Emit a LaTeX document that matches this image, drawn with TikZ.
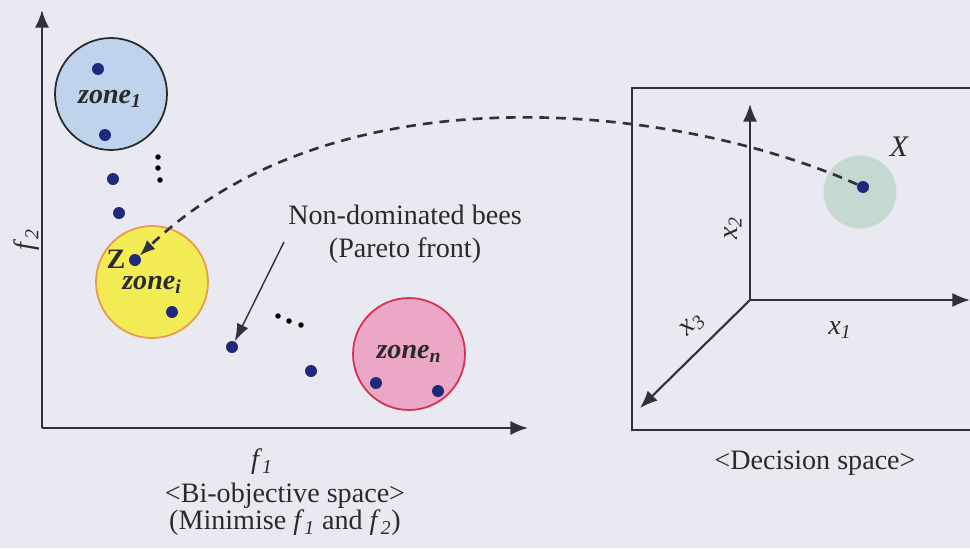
\documentclass[tikz,border=0pt]{standalone}
\usepackage{fontspec}
\setmainfont{Liberation Serif}
\usepackage{tikz}
\usetikzlibrary{positioning}
\usetikzlibrary{calc,arrows.meta}
\definecolor{bg-paper}{HTML}{E9E9F2}
\definecolor{ax-line}{HTML}{30303E}
\definecolor{bee-dot}{HTML}{1F2A7C}
\definecolor{txt-dark}{HTML}{2A2A2A}
\definecolor{zone-blue}{HTML}{BFD3EC}
\definecolor{zone-yellow}{HTML}{F3EC55}
\definecolor{zone-yellow-rim}{HTML}{E89A50}
\definecolor{zone-pink}{HTML}{ECA6C6}
\definecolor{zone-pink-rim}{HTML}{D9304A}
\definecolor{halo}{HTML}{C5D8D2}

\begin{document}
\begin{tikzpicture}[
    x=0.02cm, y=-0.02cm,
    font=\fontsize{16}{19}\selectfont,
    text=txt-dark
  ]

  \tikzset{
    axis/.style={draw=ax-line, line width=1.2pt, -{Latex[length=10pt,width=8pt]}},
    zone/.style={circle, line width=1pt, minimum size=2.24cm, inner sep=0pt},
    bee/.style={circle, fill=bee-dot, inner sep=0pt, minimum size=0.24cm},
    tiny/.style={circle, fill=black, inner sep=0pt, minimum size=0.11cm},
    zlabel/.style={font=\fontsize{16}{19}\selectfont\bfseries\itshape},
    link/.style={draw=ax-line, line width=1.5pt, dash pattern=on 5.5pt off 4pt, -{Latex[length=9pt,width=7pt]}},
    pointer/.style={draw=ax-line, line width=0.8pt, -{Latex[length=10pt,width=7pt]}}
  }

  \useasboundingbox[fill=bg-paper] (0,0) rectangle (970,548);

  % Bi-objective space
  \coordinate (orig) at (42,428);
  \coordinate (f2end) at (42,10);
  \coordinate (f1end) at (528,428);
  \draw[axis] (orig) -- (f2end);
  \draw[axis] (orig) -- (f1end);
  \node (f2lab) [rotate=90] at (27,240) {\textit{f}\textsubscript{\textit{2}}};
  \node (f1lab) at (262,462) {\textit{f}\textsubscript{\textit{1}}};
  \node (bilab) [align=center, inner sep=1pt, font=\fontsize{16}{14}\selectfont] at (285,509)
    {<Bi-objective space>\\(Minimise \textit{f}\textsubscript{\textit{1}} and \textit{f}\textsubscript{\textit{2}})};

  % zones
  \node (zone1) [zone, draw=txt-dark, fill=zone-blue] at (111,94) {};
  \node (zonei) [zone, draw=zone-yellow-rim, fill=zone-yellow] at (152,282) {};
  \node (zonen) [zone, draw=zone-pink-rim, fill=zone-pink] at (409,354) {};
  \node (z1lab) [zlabel] at (110,99) {zone\textsubscript{1}};
  \node (zilab) [zlabel] at (152,285) {zone\textsubscript{i}};
  \node (znlab) [zlabel] at (409,354) {zone\textsubscript{n}};

  % bees
  \node (b1) [bee] at (98,69) {};
  \node (b2) [bee] at (105,135) {};
  \node (b3) [bee] at (113,179) {};
  \node (b4) [bee] at (119,213) {};
  \node (zdot) [bee] at (135,260) {};
  \node (b6) [bee] at (172,312) {};
  \node (b7) [bee] at (232,347) {};
  \node (b8) [bee] at (311,371) {};
  \node (b9) [bee] at (376,383) {};
  \node (b10) [bee] at (438,391) {};
  \node (zlab) [font=\fontsize{16}{19}\selectfont\bfseries, inner sep=1pt] at (116,259) {Z};

  \foreach \i/\px/\py in {1/158/157, 2/158/168, 3/160/180, 4/278/316, 5/289/321, 6/301/325}
    \node (dd\i) [tiny] at (\px,\py) {};

  \node (front) [align=center] at (405,234) {Non-dominated bees\\(Pareto front)};
  \coordinate (fronttail) at (284,242);
  \draw[pointer] (fronttail) -- (b7);

  % Decision space
  \draw[draw=ax-line, line width=1pt] (970,88) -- (632,88) -- (632,430) -- (970,430);
  \coordinate (dorig) at (750,300);
  \coordinate (x2end) at (750,104);
  \coordinate (x1end) at (970,300);
  \coordinate (x3end) at (640,408);
  \draw[axis] (dorig) -- (x2end);
  \draw[axis] (dorig) -- (x1end);
  \draw[axis] (dorig) -- (x3end);
  \node (x2lab) [rotate=90] at (733,228) {\textit{x}\textsubscript{\textit{2}}};
  \node (x1lab) at (840,330) {\textit{x}\textsubscript{\textit{1}}};
  \node (x3lab) [rotate=45] at (693,325) {\textit{x}\textsubscript{\textit{3}}};
  \node (halo) [circle, fill=halo, inner sep=0pt, minimum size=1.46cm] at (860,192) {};
  \node (xdot) [bee] at (863,187) {};
  \node (xlab) [font=\fontsize{17}{19}\selectfont\itshape] at (899,147) {X};
  \node (declab) at (815,463) {<Decision space>};

  % mapping
  \draw[link] (xdot) .. controls (680,105) and (340,65) .. (zdot);

\end{tikzpicture}
\end{document}
